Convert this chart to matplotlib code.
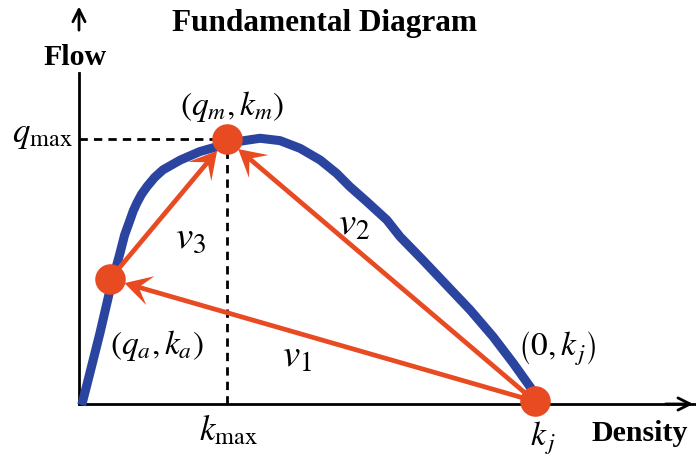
import numpy as np
import matplotlib.pyplot as plt

plt.rcParams["font.family"] = ["Liberation Serif", "DejaVu Serif"]
plt.rcParams["mathtext.fontset"] = "stix"

# fundamental diagram curve (density, flow), arbitrary units: k_j = 100
density = [0.6, 2.4, 4.6, 6.8, 9.0, 10.0, 11.2, 11.9, 12.7, 13.7, 14.9, 16.6,
           18.4, 22.2, 26.5, 30.2, 34.6, 39.7, 44.1, 48.5, 52.9, 56.5, 59.4,
           63.1, 67.5, 70.4, 75.4, 80.6, 85.8, 90.8, 95.2, 98.9, 100.4]
flow = [-0.4, 11.7, 26.7, 42.9, 56.8, 63.5, 69.2, 72.6, 75.6, 78.8, 81.7, 85.2,
        88.0, 91.7, 94.9, 96.7, 98.6, 99.9, 99.0, 96.1, 91.7, 86.7, 81.7,
        76.1, 69.2, 62.9, 54.1, 44.7, 35.3, 25.3, 15.4, 6.5, 2.7]

# states on the curve: a, m (capacity), j (jam)
k_a, q_a = 6.8, 47.0
k_m, q_m = 32.4, 99.5
k_j, q_j = 100.0, 1.0

# arrows (from, to)
waves = [((k_j, q_j), (k_a, q_a)),
         ((k_j, q_j), (k_m, q_m)),
         ((k_a, q_a), (k_m, q_m))]

BLUE = "#2A44A0"
RED = "#E84A22"

W, H = 696, 461
fig = plt.figure(figsize=(W / 100, H / 100), dpi=100)
ax = fig.add_axes([0, 0, 1, 1])
ax.set_xlim(-17.32, 135.3)
ax.set_ylim(-21.43, 151.88)
ax.axis("off")


def fp(x, y):
    # pixel position in the image -> figure fraction
    return x / W, 1 - y / H


# axes
ax.plot([0, 135.3], [0, 0], color="black", lw=2, zorder=2)
ax.annotate("", xy=(135.3, 0), xytext=(128, 0),
            arrowprops=dict(arrowstyle="->", lw=2, color="black",
                            mutation_scale=22))
ax.plot([0, 0], [0, 124.4], color="black", lw=2, zorder=2)
ax.annotate("", xy=(0, 150.5), xytext=(0, 139.5),
            arrowprops=dict(arrowstyle="->", lw=2, color="black",
                            mutation_scale=22))

# dashed guides
ax.plot([0, k_m], [q_m, q_m], color="black", lw=2, ls=(0, (3, 2.2)), zorder=2)
ax.plot([k_m, k_m], [0, q_m], color="black", lw=2, ls=(0, (3, 2.2)), zorder=2)

# curve
ax.plot(density, flow, color=BLUE, lw=6.5, solid_capstyle="butt",
        solid_joinstyle="round", zorder=3)


def wave_arrow(p0, p1, r=15, L=27, Wd=15, notch=0.55, lw=3.4):
    t = ax.transData
    a = t.transform(p0)
    b = t.transform(p1)
    u = (b - a) / np.hypot(*(b - a))
    n = np.array([-u[1], u[0]])
    tip = b - r * u
    back = tip - notch * L * u
    head = np.array([tip, tip - L * u + Wd * n, back, tip - L * u - Wd * n])
    head = t.inverted().transform(head)
    base = t.inverted().transform(back + 2 * u)
    ax.plot([p0[0], base[0]], [p0[1], base[1]], color=RED, lw=lw,
            solid_capstyle="butt", zorder=4)
    ax.fill(head[:, 0], head[:, 1], color=RED, lw=0, zorder=4)


for p0, p1 in waves:
    wave_arrow(p0, p1)

ax.plot([k_a, k_m, k_j], [q_a, q_m, q_j], "o", color=RED, ms=22, mew=0,
        zorder=5)

# text
fig.text(*fp(324, 31), "Fundamental Diagram", fontsize=22.5, fontweight="bold",
         ha="center", va="baseline")
fig.text(*fp(75, 65), "Flow", fontsize=21.5, fontweight="bold",
         ha="center", va="baseline")
fig.text(*fp(640, 441), "Density", fontsize=21.5, fontweight="bold",
         ha="center", va="baseline")

fs = 24
fig.text(*fp(42, 142), r"$q_{\mathrm{max}}$", fontsize=25, ha="center", va="baseline")
fig.text(*fp(228, 440), r"$k_{\mathrm{max}}$", fontsize=25, ha="center", va="baseline")
fig.text(*fp(543, 445), r"$k_{\,j}$", fontsize=fs, ha="center", va="baseline")
fig.text(*fp(232, 106), r"$\left(q_m,k_m\right)$", fontsize=fs, ha="center", va="center")
fig.text(*fp(157, 345), r"$\left(q_a,k_a\right)$", fontsize=fs, ha="center", va="center")
fig.text(*fp(557, 349), r"$\left(0,k_{\,j}\right)$", fontsize=fs, ha="center", va="center")

fv = 28
fig.text(*fp(297, 357), r"$v_1$", fontsize=fv, ha="center", va="center")
fig.text(*fp(354, 225), r"$v_2$", fontsize=fv, ha="center", va="center")
fig.text(*fp(191, 238), r"$v_3$", fontsize=fv, ha="center", va="center")

fig.savefig("out.png", dpi=100)
